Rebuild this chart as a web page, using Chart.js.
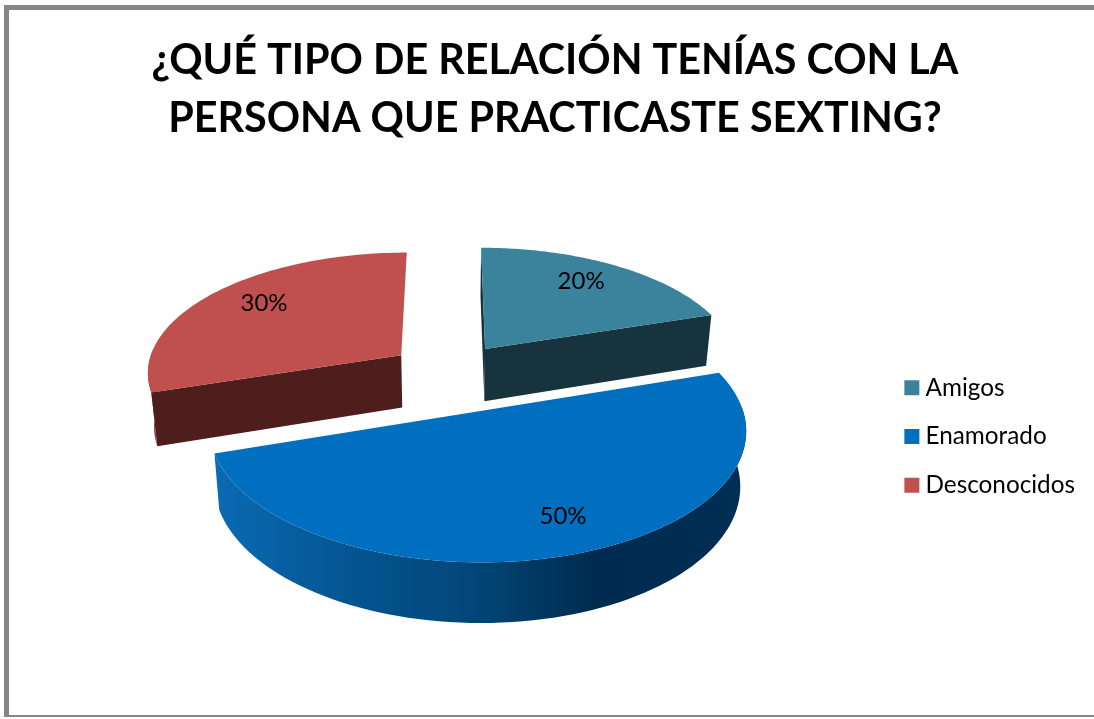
<!DOCTYPE html>
<html>
<head>
<meta charset="utf-8">
<title>Sexting</title>
<script src="https://cdn.jsdelivr.net/npm/chart.js@4/dist/chart.umd.min.js"></script>
<style>
  html, body { margin: 0; padding: 0; background: #fff; width: 1094px; height: 719px; overflow: hidden; }
  #frame { position: absolute; left: 4px; top: 5px; width: 1090px; height: 712px; box-sizing: border-box;
           border-left: 5px solid #868686; border-top: 5px solid #868686; border-bottom: 2px solid #868686; }
  canvas { position: absolute; left: 0; top: 0; }
</style>
</head>
<body>
<div id="frame"></div>
<canvas id="sextingChart" width="1094" height="719"></canvas>
<script>
const categories = ['Amigos', 'Enamorado', 'Desconocidos'];
const values = [20, 50, 30];
const titleLines = ['¿QUÉ TIPO DE RELACIÓN TENÍAS CON LA', 'PERSONA QUE PRACTICASTE SEXTING?'];
const sliceColors = ['#3b839c', '#006fc0', '#c0504d'];
const startWallColors = ['#17333d', null, '#4d1e1c'];
const endWallColors = ['#17333d', null, null];
const rimColors = ['#17333d', null, '#9a3f3c'];
const sliceOffsets = [43, 59.5, 43];
const labelRadius = [0.77, 0.775, 0.76];
const labelSweep = [0.47, 0.482, 0.525];

// tilted camera used to fake the 3D pie
const view = { sx: 255, sy: 120, k: 0.13, depth: 53, depthPull: 0.7, shrink: 0.98, dx: -5.5, dy: -12.5 };
const legendShift = 121;

function project(arc, u, v, low) {
  const w = 1 / (1 + view.k * v);
  let x = view.sx * u * w;
  let y = -view.sy * v * w;
  if (low) {
    x *= view.shrink;
    y += view.depth * (1 + (w - 1) * view.depthPull);
  }
  return [arc.x + view.dx + x, arc.y + view.dy + y];
}

function tracePath(ctx, pts) {
  ctx.beginPath();
  pts.forEach((p, i) => (i ? ctx.lineTo(p[0], p[1]) : ctx.moveTo(p[0], p[1])));
  ctx.closePath();
}

const pie3d = {
  id: 'pie3d',
  afterLayout(chart) {
    // legend sits lower than the centre of its column
    chart.legend.top += legendShift;
    chart.legend.bottom += legendShift;
  },
  beforeDatasetsDraw(chart) {
    const ctx = chart.ctx;
    const arcs = chart.getDatasetMeta(0).data;
    const order = arcs.map((a, i) => i).sort((a, b) => {
      const mid = i => (arcs[i].startAngle + arcs[i].endAngle) / 2;
      return Math.sin(mid(a)) - Math.sin(mid(b));
    });
    const texts = [];
    ctx.save();
    order.forEach(i => {
      const arc = arcs[i];
      const sweep = arc.endAngle - arc.startAngle;
      const mid = arc.startAngle + sweep / 2;
      const off = arc.options.offset / arc.outerRadius;
      const ou = Math.cos(mid) * off;
      const ov = -Math.sin(mid) * off;
      const rim = [];
      const front = [];
      for (let s = 0; s <= 90; s++) {
        const a = arc.startAngle + sweep * s / 90;
        const p = [ou + Math.cos(a), ov - Math.sin(a)];
        rim.push(p);
        // the back half of the rim faces away from the camera
        if (Math.sin(a) > -0.05) front.push(p);
      }
      const top = rim.map(p => project(arc, p[0], p[1], false));
      const low = rim.map(p => project(arc, p[0], p[1], true));
      const tipTop = project(arc, ou, ov, false);
      const tipLow = project(arc, ou, ov, true);

      // curved wall
      if (front.length > 1) {
        const frontTop = front.map(p => project(arc, p[0], p[1], false));
        const frontLow = front.map(p => project(arc, p[0], p[1], true));
        let paint = rimColors[i];
        if (!paint) {
          const xs = low.map(p => p[0]);
          const g = ctx.createLinearGradient(Math.min(...xs), 0, Math.max(...xs), 0);
          g.addColorStop(0, '#0a6ab2');
          g.addColorStop(0.25, '#045592');
          g.addColorStop(0.5, '#024575');
          g.addColorStop(0.72, '#002b4f');
          g.addColorStop(1, '#002e54');
          paint = g;
        }
        ctx.fillStyle = paint;
        tracePath(ctx, frontTop.concat(frontLow.reverse()));
        ctx.fill();
      }

      // flat side walls, only the ones the camera can see
      if (startWallColors[i]) {
        ctx.fillStyle = startWallColors[i];
        tracePath(ctx, [tipTop, top[0], low[0], tipLow]);
        ctx.fill();
      }
      if (endWallColors[i]) {
        ctx.fillStyle = endWallColors[i];
        tracePath(ctx, [tipTop, top[90], low[90], tipLow]);
        ctx.fill();
      }

      // top face
      ctx.fillStyle = sliceColors[i];
      tracePath(ctx, [tipTop].concat(top));
      ctx.fill();

      const f = labelRadius[i];
      const la = arc.startAngle + sweep * labelSweep[i];
      texts.push([values[i] + '%', project(arc, ou + Math.cos(la) * f, ov - Math.sin(la) * f, false)]);
    });
    ctx.fillStyle = '#000';
    ctx.font = '24px Lato';
    ctx.textAlign = 'center';
    ctx.textBaseline = 'middle';
    texts.forEach(t => ctx.fillText(t[0], t[1][0], t[1][1]));
    ctx.restore();
    return false;
  }
};

new Chart(document.getElementById('sextingChart'), {
  type: 'pie',
  data: {
    labels: categories,
    datasets: [{
      data: values,
      backgroundColor: sliceColors,
      // slices are painted by pie3d, the thick border only widens the legend squares
      borderColor: sliceColors,
      borderWidth: 12,
      offset: sliceOffsets
    }]
  },
  options: {
    responsive: false,
    animation: false,
    layout: { padding: { left: 25, right: 9, top: 32, bottom: 120 } },
    plugins: {
      title: {
        display: true,
        text: titleLines,
        color: '#000',
        font: { family: 'Lato', size: 41.3, weight: 'bold', lineHeight: 1.4 },
        padding: { top: 0, bottom: 22 }
      },
      legend: {
        position: 'right',
        labels: {
          color: '#000',
          font: { family: 'Lato', size: 24.3 },
          boxWidth: 3,
          boxHeight: 3,
          padding: 24.5
        }
      },
      tooltip: { enabled: false }
    }
  },
  plugins: [pie3d]
});
</script>
</body>
</html>
